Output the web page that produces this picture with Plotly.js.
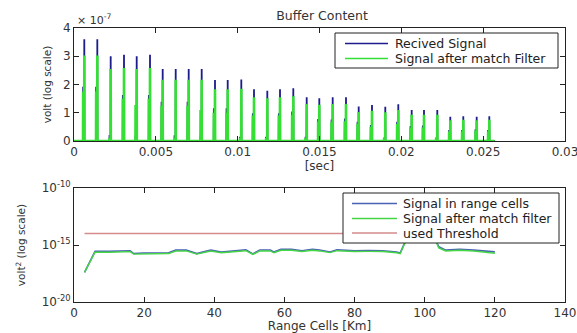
<!DOCTYPE html>
<html>
<head>
<meta charset="utf-8">
<script src="https://cdn.plot.ly/plotly-3.0.1.min.js"></script>
<style>html,body{margin:0;padding:0;background:#fff;}#chart{width:577px;height:333px;}</style>
</head>
<body>
<div id="chart"></div>
<script>
// ---------- Top panel: buffer content (volt, x 1e-7) ----------
const bufferStart = 0;
const bufferEnd = 0.0257;
const timeTicks = [0, 0.005, 0.01, 0.015, 0.02, 0.025, 0.03];
const pulseTimes = [0.000629, 0.001424, 0.002242, 0.003055, 0.003831, 0.004644, 0.005419, 0.006214,
  0.007008, 0.007802, 0.008615, 0.009391, 0.010222, 0.010998, 0.011811, 0.012587, 0.013399, 0.014218,
  0.014988, 0.015806, 0.016619, 0.017395, 0.018207, 0.019020, 0.019814, 0.020633, 0.021385, 0.022197,
  0.022992, 0.023786, 0.024605, 0.025375];
const receivedPeaks = [3.6, 3.6, 3.0, 3.05, 3.0, 3.05, 2.55, 2.55, 2.55, 2.55, 2.16, 2.16, 2.18, 1.83,
  1.78, 1.83, 1.87, 1.55, 1.51, 1.55, 1.55, 1.22, 1.27, 1.21, 1.30, 1.10, 1.10, 1.10, 0.86, 0.88, 0.86, 0.88];
const filteredPeaks = [3.03, 3.03, 2.55, 2.58, 2.55, 2.58, 2.17, 2.17, 2.17, 2.17, 1.83, 1.83, 1.85, 1.55,
  1.51, 1.55, 1.58, 1.31, 1.28, 1.31, 1.31, 1.03, 1.07, 1.02, 1.10, 0.93, 0.93, 0.93, 0.73, 0.75, 0.73, 0.75];
const receivedSecondary = [1.92, 1.92, 0.21, 1.63, 0.2, 1.63, 1.39, 0.2, 1.39, 0.2, 1.16, 1.16, 0.15, 0.98,
  0.15, 0.98, 1.04, 0.15, 0.78, 0.76, 0.8, 0.68, 0.57, 0.12, 0.68, 0.53, 0.55, 0.12, 0.39, 0.39, 0.42, 0.39];
const filteredSecondary = [1.75, 1.75, 0.1, 1.5, 1.27, 1.5, 1.25, 0.1, 1.25, 1.1, 1.0, 1.0, 0.1, 0.9,
  0.1, 0.9, 0.92, 0.1, 0.68, 0.66, 0.7, 0.6, 0.5, 0.1, 0.6, 0.46, 0.48, 0.1, 0.34, 0.34, 0.37, 0.34];

// ---------- Bottom panel: range cells (volt^2, log10 values) ----------
const rangeCells = [3, 6, 10, 14, 16, 17, 20, 24, 27, 29, 32, 35, 38, 39, 42, 47, 49, 51, 53, 56, 57, 59,
  62, 65, 68, 70, 73, 75, 80, 84, 88, 92, 93, 95, 96, 101, 103, 104, 106, 110, 114, 118, 120];
const rangeSignalLog10 = [-17.4, -15.56, -15.56, -15.55, -15.5, -15.75, -15.7, -15.7, -15.68, -15.45, -15.44,
  -15.75, -15.55, -15.45, -15.62, -15.5, -15.42, -15.78, -15.44, -15.44, -15.62, -15.38, -15.38, -15.5,
  -15.38, -15.44, -15.61, -15.42, -15.5, -15.48, -15.5, -15.62, -15.7, -14.3, -13.0, -13.0, -14.4, -15.15,
  -15.45, -15.38, -15.45, -15.56, -15.6];
const matchedLog10 = [-17.4, -15.63, -15.63, -15.62, -15.58, -15.8, -15.77, -15.77, -15.75, -15.53, -15.52,
  -15.8, -15.62, -15.53, -15.68, -15.58, -15.5, -15.83, -15.52, -15.52, -15.68, -15.46, -15.46, -15.57,
  -15.46, -15.52, -15.67, -15.5, -15.57, -15.56, -15.57, -15.68, -15.77, -14.4, -13.1, -13.1, -14.5, -15.25,
  -15.52, -15.46, -15.53, -15.64, -15.72];
const thresholdCells = [3, 120];
const thresholdLog10 = [-14, -14];
const logTickVals = [1e-20, 1e-15, 1e-10];
const logTickText = ['10<sup>-20</sup>', '10<sup>-15</sup>', '10<sup>-10</sup>'];

// ---------- build spike traces from pulse arrays ----------
function spikes(times, main, secondary) {
  const eps = 0.000008, off = 0.00007;
  const x = [bufferStart], y = [0];
  times.forEach((t, i) => {
    const ts = t - off;
    x.push(ts - eps, ts, ts + eps, t - eps, t, t + eps);
    y.push(0, secondary[i], 0, 0, main[i], 0);
  });
  x.push(bufferEnd); y.push(0);
  return {x, y};
}
const rec = spikes(pulseTimes, receivedPeaks, receivedSecondary);
const fil = spikes(pulseTimes, filteredPeaks, filteredSecondary);
const pow10 = a => a.map(v => Math.pow(10, v));

const FAM = 'DejaVu Sans, Liberation Sans, Arial, sans-serif';
const font = {family: FAM, size: 12, color: '#333'};
const yTitleFont = {family: FAM, size: 10.5, color: '#333'};
const traces = [
  {x: rec.x, y: rec.y, type: 'scatter', mode: 'lines', name: 'Recived Signal',
   line: {color: '#1c1c8c', width: 1.8}, xaxis: 'x', yaxis: 'y'},
  {x: fil.x, y: fil.y, type: 'scatter', mode: 'lines', name: 'Signal after match Filter',
   line: {color: '#35e035', width: 2.6}, xaxis: 'x', yaxis: 'y'},
  {x: rangeCells, y: pow10(rangeSignalLog10), type: 'scatter', mode: 'lines', name: 'Signal in range cells',
   line: {color: '#4a62b5', width: 1.6}, xaxis: 'x2', yaxis: 'y2'},
  {x: rangeCells, y: pow10(matchedLog10), type: 'scatter', mode: 'lines', name: 'Signal after match filter',
   line: {color: '#45d645', width: 1.4}, xaxis: 'x2', yaxis: 'y2'},
  {x: thresholdCells, y: pow10(thresholdLog10), type: 'scatter', mode: 'lines', name: 'used Threshold',
   line: {color: '#d58b8b', width: 1.5}, xaxis: 'x2', yaxis: 'y2'}
];

const W = 577, H = 333;
const px = v => v / W, py = v => 1 - v / H;

// MATLAB-style boxed legends built from the traces' names and colours
const legFont = {family: FAM, size: 12.5, color: '#222'};
const legendBoxes = [
  {traces: [0, 1], box: [335, 33, 558, 68], rows: [43.5, 58.5], line: [345, 388], text: 393},
  {traces: [2, 3, 4], box: [343, 193, 559, 243], rows: [203.5, 218.5, 233], line: [352, 397], text: 401}
];
const shapes = [], annotations = [];
legendBoxes.forEach(lg => {
  shapes.push({type: 'rect', xref: 'paper', yref: 'paper', layer: 'above',
    x0: px(lg.box[0]), x1: px(lg.box[2]), y0: py(lg.box[3]), y1: py(lg.box[1]),
    fillcolor: '#fff', line: {color: '#222', width: 1}});
  lg.traces.forEach((ti, k) => {
    const tr = traces[ti];
    shapes.push({type: 'line', xref: 'paper', yref: 'paper', layer: 'above',
      x0: px(lg.line[0]), x1: px(lg.line[1]), y0: py(lg.rows[k]), y1: py(lg.rows[k]),
      line: {color: tr.line.color, width: 1.5}});
    annotations.push({text: tr.name, xref: 'paper', yref: 'paper', x: px(lg.text), xanchor: 'left',
      y: py(lg.rows[k]), yanchor: 'middle', showarrow: false, font: legFont});
  });
});
annotations.push({text: '× 10<sup>-7</sup>', xref: 'paper', yref: 'paper', x: px(75), xanchor: 'left',
  y: py(19), yanchor: 'middle', showarrow: false, font: {family: FAM, size: 11, color: '#333'}});

const axBase = {showline: true, linecolor: '#222', linewidth: 1, mirror: 'ticks', ticks: 'inside',
  ticklen: 5, tickcolor: '#222', showgrid: false, zeroline: false, tickfont: font,
  ticklabeloverflow: 'allow'};
const layout = {
  width: W, height: H, margin: {l: 0, r: 0, t: 0, b: 0},
  paper_bgcolor: '#fff', plot_bgcolor: '#fff', font: font, showlegend: false,
  title: {text: 'Buffer Content', font: {family: FAM, size: 12.5, color: '#333'},
    x: px(322), xanchor: 'center', y: py(16), yanchor: 'middle'},
  xaxis: Object.assign({}, axBase, {domain: [px(74), px(565)], range: [0, 0.03],
    tickvals: timeTicks, ticktext: timeTicks.map(String),
    anchor: 'y', title: {text: '[sec]', font: font, standoff: 2}}),
  yaxis: Object.assign({}, axBase, {domain: [py(141), py(28)], range: [0, 4], dtick: 1,
    anchor: 'x', title: {text: 'volt (log scale)', font: yTitleFont, standoff: 9}}),
  xaxis2: Object.assign({}, axBase, {domain: [px(74), px(565)], range: [0, 140], dtick: 20, tick0: 0,
    anchor: 'y2', title: {text: 'Range Cells [Km]', font: {family: FAM, size: 12, color: '#333'}, standoff: 3}}),
  yaxis2: Object.assign({}, axBase, {domain: [py(302), py(188)], type: 'log', range: [-20, -10],
    tickvals: logTickVals, ticktext: logTickText,
    anchor: 'x2', title: {text: 'volt<sup>2</sup> (log scale)', font: yTitleFont, standoff: 13}}),
  shapes: shapes,
  annotations: annotations
};
Plotly.newPlot('chart', traces, layout, {displayModeBar: false, staticPlot: true});
</script>
</body>
</html>
